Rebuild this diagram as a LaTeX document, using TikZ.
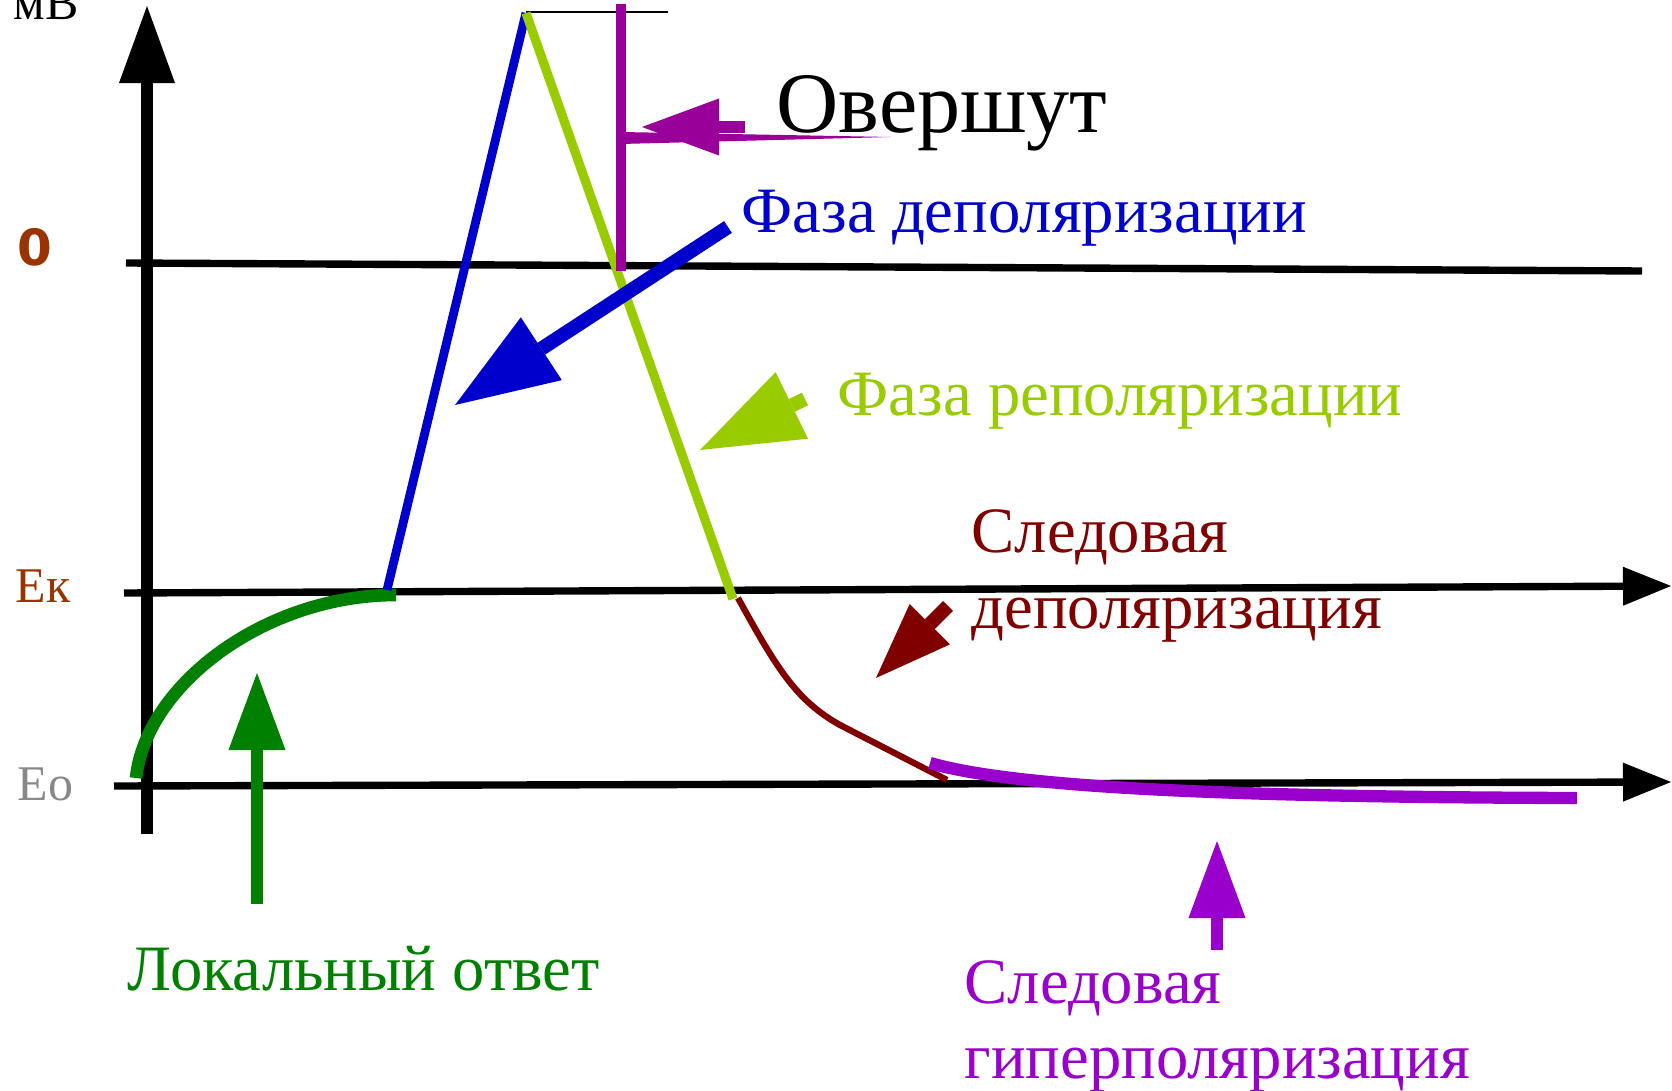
\documentclass[tikz,border=0pt]{standalone}
\usepackage{fontspec}
\setmainfont{Liberation Serif}
\newfontfamily\zerofont{DejaVu Sans}
\usetikzlibrary{arrows.meta}

\definecolor{potbrown}{HTML}{993300}
\definecolor{potgray}{HTML}{888888}
\definecolor{depblue}{HTML}{0000CC}
\definecolor{repgreen}{HTML}{99CC00}
\definecolor{tracered}{HTML}{800000}
\definecolor{localgreen}{HTML}{008000}
\definecolor{overpurple}{HTML}{990099}
\definecolor{hyperpurple}{HTML}{9900CC}

\begin{document}
\begin{tikzpicture}[x=0.01cm, y=-0.01cm,
    hline/.style={line width=2.1pt},
    lbl/.style={anchor=base west, inner sep=0pt, font=\fontsize{18.4}{18.4}\selectfont},
    axlbl/.style={anchor=base west, inner sep=0pt, font=\fontsize{14.2}{14.2}\selectfont},
    ptr/.style={line width=4pt},
    bighead/.style={-{Triangle[length=1.03cm, width=0.75cm, line width=0pt]}},
    smallhead/.style={-{Triangle[length=0.77cm, width=0.57cm, line width=0pt]}},
    axhead/.style={-{Triangle[length=0.48cm, width=0.39cm, line width=0pt]}}]
    \useasboundingbox (0,0) rectangle (1672,1091);

    % axes and levels
    \draw[line width=3.4pt, -{Triangle[length=0.77cm, width=0.56cm, line width=0pt]}] (147,834) -- (147,6);
    \draw[hline] (126,263) -- (1642,271);
    \draw[hline, axhead] (124,593) -- (1671,586);
    \draw[hline, axhead] (114,786) -- (1671,782);
    \draw[line width=0.6pt] (526,12) -- (668,12);

    \node[axlbl] (mv) at (13,20) {мВ};
    \node[anchor=base west, inner sep=0pt, potbrown, font=\zerofont\bfseries\fontsize{14.2}{14.2}\selectfont] (zero) at (17,265) {0};
    \node[axlbl, potbrown] (ek) at (15,602) {Ек};
    \node[axlbl, potgray] (eo) at (17,800) {Ео};

    % the spike
    \coordinate (rest) at (136,778);
    \coordinate (thresh) at (387,590);
    \coordinate (peak) at (526,13);
    \coordinate (repEnd) at (733,599);
    \coordinate (bend) at (840,725);
    \coordinate (traceEnd) at (947,780);
    \coordinate (hypStart) at (930,763);
    \coordinate (hypEnd) at (1577,798);

    \draw[line width=3.6pt, localgreen] (rest) .. controls (146,685) and (265,595) .. (396,595);
    \draw[line width=2.5pt, depblue] (thresh) -- (peak);
    \draw[line width=2.6pt, repgreen] (peak) -- (repEnd);
    \draw[line width=1.8pt, tracered] (738,598) .. controls (775,665) and (795,700) .. (bend) -- (traceEnd);
    \draw[line width=3.5pt, hyperpurple] (hypStart) .. controls (1010,786) and (1200,797) .. (hypEnd);

    % overshoot bracket
    \draw[line width=2.9pt, overpurple] (621,4) -- (621,271);
    \coordinate (overTail) at (745,127);
    \coordinate (overTip) at (642,127);
    \draw[line width=3.4pt, overpurple, smallhead] (overTail) -- (overTip);
    \fill[overpurple] (621,132) -- (891,137) -- (621,144) -- cycle;
    \node[anchor=base west, inner sep=0pt, font=\fontsize{24.5}{24.5}\selectfont] (over) at (776,133) {Овершут};

    % phases
    \node[lbl, depblue] (dep) at (741,233) {Фаза деполяризации};
    \coordinate (depTail) at (728,227);
    \coordinate (depTip) at (455,405);
    \draw[ptr, depblue, bighead] (depTail) -- (depTip);

    \node[lbl, repgreen] (rep) at (837,416) {Фаза реполяризации};
    \coordinate (repTail) at (805,399);
    \coordinate (repTip) at (700,450);
    \draw[ptr, repgreen, -{Triangle[length=1.02cm, width=0.74cm, line width=0pt]}] (repTail) -- (repTip);

    \node[lbl, tracered] (tr1) at (971,552) {Следовая};
    \node[lbl, tracered] (tr2) at (971,628) {деполяризация};
    \coordinate (trTail) at (948,606);
    \coordinate (trTip) at (876,678);
    \draw[ptr, tracered, -{Triangle[length=0.76cm, width=0.57cm, line width=0pt]}] (trTail) -- (trTip);

    \node[lbl, localgreen] (loc) at (127,990) {Локальный ответ};
    \coordinate (locTail) at (257,904);
    \coordinate (locTip) at (257,673);
    \draw[line width=3.4pt, localgreen, smallhead] (locTail) -- (locTip);

    \node[lbl, hyperpurple] (hy1) at (964,1003) {Следовая};
    \node[lbl, hyperpurple] (hy2) at (964,1078) {гиперполяризация};
    \coordinate (hyTail) at (1217,950);
    \coordinate (hyTip) at (1217,841);
    \draw[line width=3.4pt, hyperpurple, smallhead] (hyTail) -- (hyTip);
\end{tikzpicture}
\end{document}
